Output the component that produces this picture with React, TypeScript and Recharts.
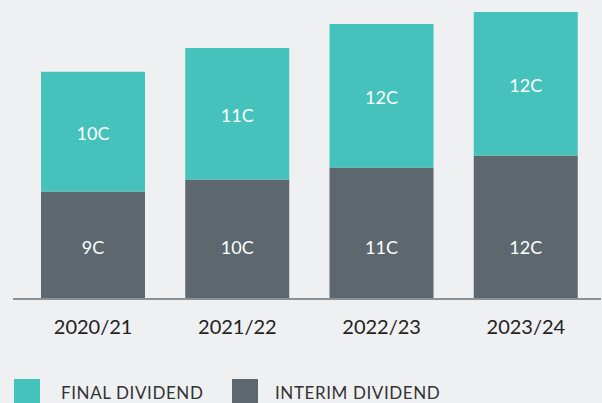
import React from "react";
import { BarChart, Bar, XAxis, YAxis, LabelList } from "recharts";

const categories = ["2020/21", "2021/22", "2022/23", "2023/24"];
const interimValues = [9, 10, 11, 12];
const finalValues = [10, 11, 12, 12];
const legendLabels = ["FINAL DIVIDEND", "INTERIM DIVIDEND"];

const data = categories.map((c, i) => ({
  year: c,
  interim: interimValues[i],
  final: finalValues[i],
}));

const TEAL = "#45c2bc";
const DARK = "#5d6770";
const BG = "#eff0f2";
const FONT = "Lato, 'Open Sans', sans-serif";

const InterimLabel = (props: any) => {
  const { x, y, width, height, value } = props;
  const bottom = Number(y) + Number(height);
  return (
    <text x={Number(x) + Number(width) / 2} y={bottom - 52} textAnchor="middle" dominantBaseline="central" fill="#ffffff" fontSize={18} fontFamily={FONT}>
      {`${value}C`}
    </text>
  );
};

const FinalLabel = (props: any) => {
  const { x, y, width, height, value } = props;
  return (
    <text x={Number(x) + Number(width) / 2} y={Number(y) + Number(height) / 2 + 1.5} textAnchor="middle" dominantBaseline="central" fill="#ffffff" fontSize={18} fontFamily={FONT}>
      {`${value}C`}
    </text>
  );
};

export default function App() {
  return (
    <div style={{ position: "absolute", left: 0, top: 0, width: 602, height: 403, background: BG, overflow: "hidden", fontFamily: FONT }}>
      <BarChart
        width={602}
        height={403}
        data={data}
        margin={{ top: 12, right: 1, bottom: 0, left: 13 }}
        barCategoryGap={20}
      >
        <XAxis
          dataKey="year"
          height={104}
          padding={{ left: 8, right: 3 }}
          tickLine={false}
          axisLine={{ stroke: "#8a9299", strokeWidth: 2 }}
          tick={{ fill: "#222222", fontSize: 20, fontFamily: FONT }}
          dy={13}
          interval={0}
        />
        <YAxis hide domain={[0, 24]} />
        <Bar dataKey="interim" stackId="a" fill={DARK} isAnimationActive={false}>
          <LabelList dataKey="interim" content={InterimLabel} />
        </Bar>
        <Bar dataKey="final" stackId="a" fill={TEAL} isAnimationActive={false}>
          <LabelList dataKey="final" content={FinalLabel} />
        </Bar>
      </BarChart>
      <div style={{ position: "absolute", left: 14, top: 379, display: "flex", alignItems: "center" }}>
        <div style={{ width: 26, height: 26, background: TEAL }} />
        <span style={{ marginLeft: 21, fontSize: 17, color: "#333", letterSpacing: 0.6, width: 150 }}>{legendLabels[0]}</span>
        <div style={{ width: 26, height: 26, background: DARK, marginLeft: 21 }} />
        <span style={{ marginLeft: 17, fontSize: 17, color: "#333", letterSpacing: 0.6 }}>{legendLabels[1]}</span>
      </div>
    </div>
  );
}
